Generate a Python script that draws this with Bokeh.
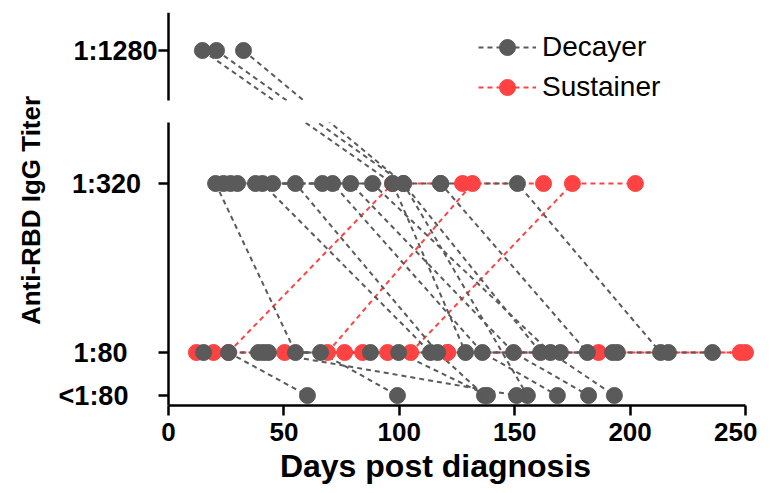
import math
from bokeh.plotting import figure
from bokeh.models import (Range1d, FixedTicker, BoxAnnotation, Legend, LegendItem,
                          Title)
from bokeh.embed import file_html
from bokeh.resources import INLINE
from bokeh.core.properties import value

# ---------------- data ----------------
TITER_LABELS = ["<1:80", "1:80", "1:320", "1:1280"]
X_TICKS = [0, 50, 100, 150, 200, 250]

# Decayers: days post diagnosis and titer for each visit of each subject
decayer_days = [
    [14.7, 97.1, 128.7],
    [20.8, 101.8, 161.2],
    [32.5, 101.8, 155.5],
    [20.4, 55.0, 87.5, 192.4],
    [23.8, 40.7, 113.5],
    [26.9, 55.0, 116.6, 136.9],
    [29.9, 71.1, 136.0, 168.5],
    [37.7, 78.9, 149.5, 182.0],
    [45.1, 88.4, 165.5, 193.2],
    [66.7, 117.9, 181.5],
    [117.9, 151.2, 213.2, 216.6],
    [26.0, 60.2],
    [65.9, 99.2],
    [15.2, 41.2, 99.7, 138.2],
    [39.0, 169.8, 194.5, 235.7],
    [43.3, 150.8],
]
decayer_titers = [
    ["1:1280", "1:320", "1:80"],
    ["1:1280", "1:320", "1:80"],
    ["1:1280", "1:320", "<1:80"],
    ["1:320", "1:80", "1:80", "1:80"],
    ["1:320", "1:320", "1:80"],
    ["1:320", "1:320", "1:80", "<1:80"],
    ["1:320", "1:320", "1:80", "<1:80"],
    ["1:320", "1:320", "1:80", "<1:80"],
    ["1:320", "1:320", "1:80", "<1:80"],
    ["1:320", "1:320", "1:80"],
    ["1:320", "1:320", "1:80", "1:80"],
    ["1:80", "<1:80"],
    ["1:80", "<1:80"],
    ["1:80", "1:80", "1:80", "<1:80"],
    ["1:80", "1:80", "1:80", "1:80"],
    ["1:80", "<1:80"],
]

# Sustainers
sustainer_days = [
    [26.0, 97.1, 127.4],
    [68.9, 131.7, 162.5],
    [104.9, 175.0, 202.3],
    [12.1, 50.3, 84.1],
    [19.5, 76.3, 120.9],
    [94.9, 186.3, 250.0],
    [120.9, 247.8],
]
sustainer_titers = [
    ["1:80", "1:320", "1:320"],
    ["1:80", "1:320", "1:320"],
    ["1:80", "1:320", "1:320"],
    ["1:80", "1:80", "1:80"],
    ["1:80", "1:80", "1:80"],
    ["1:80", "1:80", "1:80"],
    ["1:80", "1:80"],
]

# ---------------- broken-axis scale / layout ----------------
AXIS_POS = {"<1:80": 0, "1:80": 43, "1:320": 212, "1:1280": 345}
BREAK_LO, BREAK_HI = 273, 295
Y_MIN, Y_MAX = -10, 383

GRAY = "#5A5A5A"
RED = "#FF4343"
FONT = "Liberation Sans"

FRAME_LEFT = 4           # px
FRAME_W = 753
X0_PX, PX_PER_DAY = 168.0, 577.0 / 250.0


def day_at(px):
    """convert a page-x pixel position to the x-axis (day) coordinate"""
    return (px - X0_PX) / PX_PER_DAY


def build(days, titers):
    xs = [list(d) for d in days]
    ys = [[AXIS_POS[t] for t in ts] for ts in titers]
    px = [v for d in xs for v in d]
    py = [v for y in ys for v in y]
    return xs, ys, px, py


dxs, dys, dpx, dpy = build(decayer_days, decayer_titers)
sxs, sys_, spx, spy = build(sustainer_days, sustainer_titers)

p = figure(frame_width=FRAME_W, frame_height=393,
           min_border_left=FRAME_LEFT, min_border_right=0,
           min_border_top=12, min_border_bottom=76,
           x_range=Range1d(day_at(FRAME_LEFT), day_at(FRAME_LEFT + FRAME_W)),
           y_range=Range1d(Y_MIN, Y_MAX), y_axis_location=None,
           output_backend="svg", toolbar_location=None)
p.outline_line_color = None
p.grid.visible = False
p.background_fill_color = "white"
p.border_fill_color = "white"

# lines
red_lines = p.multi_line(xs=sxs, ys=sys_, line_color=RED, line_width=2,
                         line_dash="5 4")
gray_lines = p.multi_line(xs=dxs, ys=dys, line_color=GRAY, line_width=2,
                          line_dash="5 4")
# points
red_dots = p.scatter(x=spx, y=spy, size=16, fill_color=RED, line_color=RED)
gray_dots = p.scatter(x=dpx, y=dpy, size=16, fill_color=GRAY, line_color=GRAY)

# axis break gap
p.add_layout(BoxAnnotation(bottom=BREAK_LO, top=BREAK_HI, left=1.0,
                           fill_color="white", fill_alpha=1.0, line_color=None))

# broken y-axis line + ticks
p.segment(x0=[0, 0], y0=[Y_MIN, BREAK_HI], x1=[0, 0], y1=[BREAK_LO, Y_MAX],
          line_color="black", line_width=2.5)
tick_y = [AXIS_POS[t] for t in TITER_LABELS]
p.segment(x0=[day_at(158)] * len(tick_y), y0=tick_y, x1=[0] * len(tick_y),
          y1=tick_y, line_color="black", line_width=2.5)

label_center = {"1:1280": 115, "1:320": 106, "1:80": 100, "<1:80": 93}
p.text(x=[day_at(label_center[t]) for t in TITER_LABELS], y=tick_y,
       text=TITER_LABELS, text_align="center", text_baseline="middle",
       text_font=value(FONT), text_font_size=value("27px"),
       text_font_style="bold", text_color="black")

p.text(x=[day_at(30)], y=[185], text=["Anti-RBD IgG Titer"], angle=math.pi / 2,
       text_align="center", text_baseline="middle",
       text_font=value(FONT), text_font_size=value("26px"),
       text_font_style="bold", text_color="black")

# x axis
xa = p.xaxis[0]
xa.ticker = FixedTicker(ticks=X_TICKS)
xa.bounds = (0, 250)
xa.axis_line_width = 2.5
xa.axis_line_color = "black"
xa.major_tick_line_width = 2.5
xa.major_tick_out = 10
xa.major_tick_in = 0
xa.minor_tick_out = 0
xa.minor_tick_in = 0
xa.major_label_text_font = FONT
xa.major_label_text_font_size = "26px"
xa.major_label_text_font_style = "bold"
xa.major_label_text_color = "black"
xa.major_label_standoff = 7

# x-axis title (placed as in the reference, centred near x = 435 px)
TITLE_SIZE = 32
title_w = 9.725 * TITLE_SIZE
p.add_layout(Title(text="Days post diagnosis", align="left",
                   offset=435 - title_w / 2 - FRAME_LEFT,
                   text_font=FONT, text_font_size=f"{TITLE_SIZE}px",
                   text_font_style="bold", text_color="black",
                   standoff=4), "below")

legend = Legend(items=[
    LegendItem(label="Decayer", renderers=[gray_lines, gray_dots]),
    LegendItem(label="Sustainer", renderers=[red_lines, red_dots]),
], location=(478 - FRAME_LEFT, 298))
legend.glyph_width = 58
legend.glyph_height = 40
legend.spacing = -3
legend.label_standoff = 6
legend.padding = 0
legend.margin = 0
legend.border_line_color = None
legend.background_fill_alpha = 0
legend.label_text_font = FONT
legend.label_text_font_size = "28px"
legend.label_text_color = "black"
p.add_layout(legend)

open("out.html", "w").write(file_html(p, INLINE))
